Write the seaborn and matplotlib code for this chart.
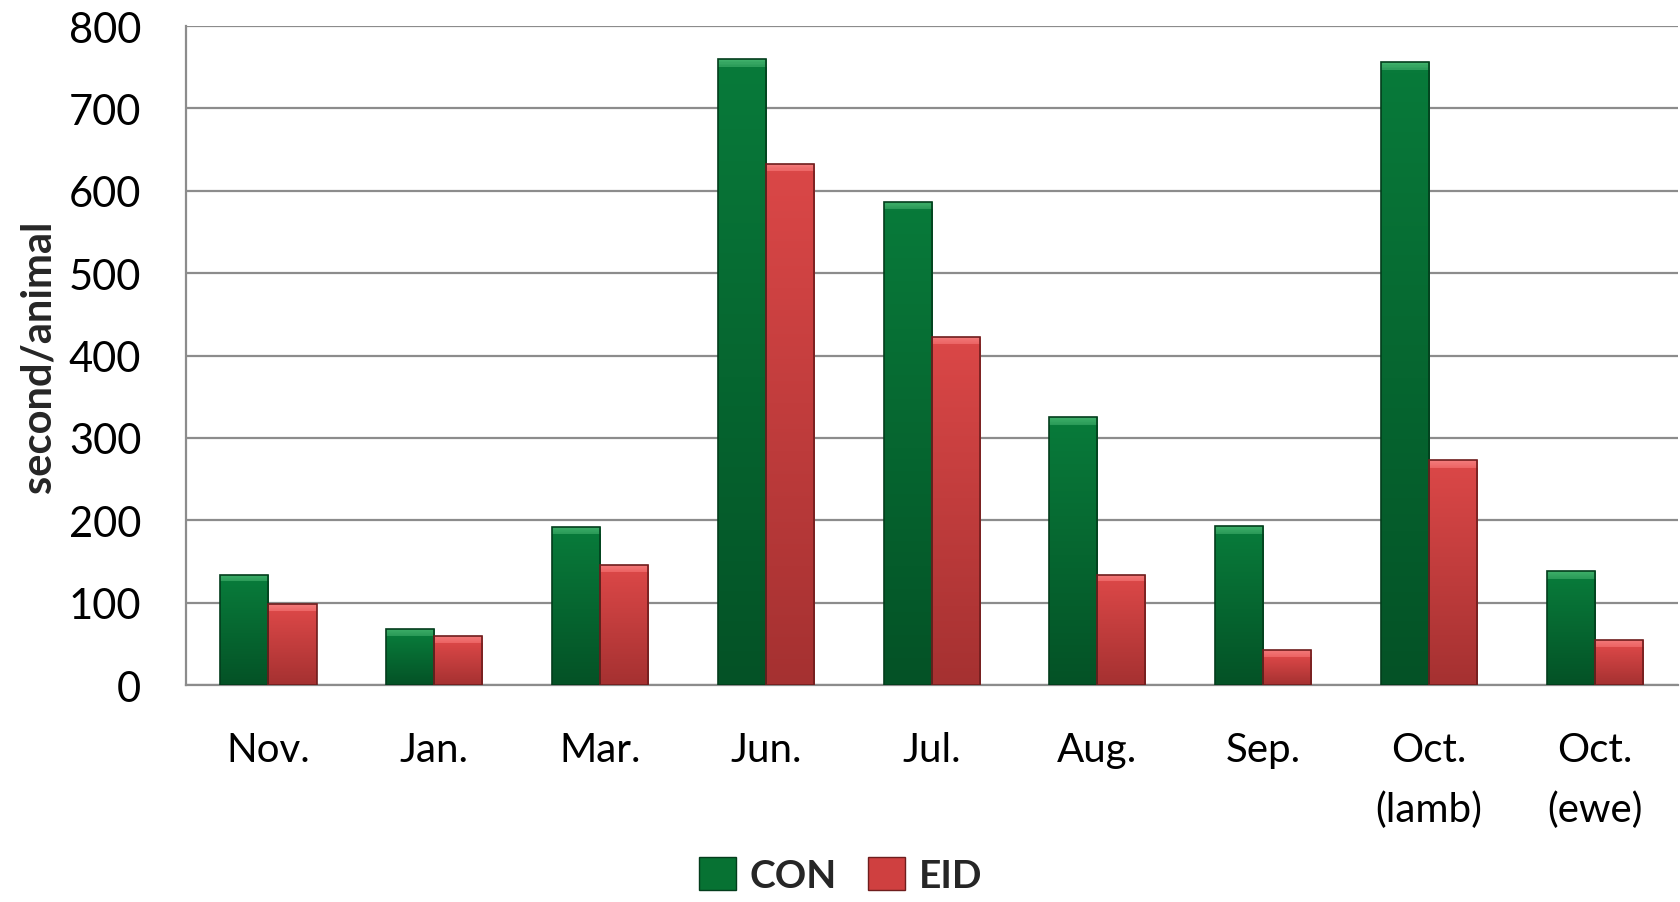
import numpy as np
import pandas as pd
import matplotlib
matplotlib.use("Agg")
import matplotlib.pyplot as plt
from matplotlib.colors import LinearSegmentedColormap
from matplotlib.patches import Patch
import seaborn as sns

# Data
months = ["Nov.", "Jan.", "Mar.", "Jun.", "Jul.", "Aug.", "Sep.", "Oct.\n(lamb)", "Oct.\n(ewe)"]
con = [134, 68, 192, 760, 587, 325, 193, 756, 138]
eid = [98, 60, 146, 633, 423, 134, 43, 273, 55]
groups = ["CON", "EID"]

GREEN = "#077233"
RED = "#cf4040"
# dark bottom -> body top -> light bevel
green_map = LinearSegmentedColormap.from_list(
    "g", [(0, "#045226"), (0.8, "#087a3a"), (0.81, "#2a9a58"), (1, "#3fb06a")])
red_map = LinearSegmentedColormap.from_list(
    "r", [(0, "#a53131"), (0.8, "#da4747"), (0.81, "#ec6464"), (1, "#f47c7c")])

df = pd.DataFrame({
    "month": months * 2,
    "value": con + eid,
    "group": [groups[0]] * len(months) + [groups[1]] * len(months),
})

sns.set_style("white")
plt.rcParams["font.family"] = ["Lato", "DejaVu Sans"]

fig = plt.figure(figsize=(16.81, 9.03), dpi=100)
ax = fig.add_axes([0.1104, 0.2403, 0.8876, 0.7297])

sns.barplot(data=df, x="month", y="value", hue="group", hue_order=groups,
            palette=[GREEN, RED], width=0.58, gap=0, ax=ax, legend=False,
            edgecolor="none", linewidth=0, zorder=3)

# gradient fill inside every bar, with a light bevel band at the top
bevel = 9  # data units
for cont, cmap, edge in zip(ax.containers, [green_map, red_map], ["#033d1c", "#6e1d1d"]):
    for bar in cont:
        x, w, h = bar.get_x(), bar.get_width(), bar.get_height()
        t = np.linspace(0, 1, 400)
        cut = 1 - bevel / h
        vals = np.where(t < cut, 0.8 * t / cut, 0.81 + 0.19 * (t - cut) / (1 - cut))
        im = ax.imshow(vals.reshape(-1, 1), extent=[x, x + w, 0, h], origin="lower",
                       aspect="auto", cmap=cmap, vmin=0, vmax=1, zorder=4,
                       interpolation="nearest")
        im.set_clip_path(bar)
        bar.set_edgecolor(edge)
        bar.set_linewidth(1.2)
        bar.set_zorder(5)
        bar.set_facecolor("none")

ax.set_ylim(0, 800)
ax.set_xlim(-0.5, len(months) - 0.5)

ax.set_yticks(range(0, 801, 100))
ax.yaxis.grid(True, color="#8c8c8c", linewidth=1.6, zorder=0)
ax.set_axisbelow(True)

ax.set_xticks(range(len(months)))
ax.set_xticklabels(months, fontsize=29, linespacing=1.75)
ax.set_xticks(np.arange(-0.5, len(months)), minor=True)
ax.tick_params(axis="x", which="major", length=0, pad=33)
ax.tick_params(axis="x", which="minor", length=10, width=1.5, color="#8c8c8c", direction="out")
ax.tick_params(axis="y", length=10, width=1.5, color="#8c8c8c", direction="out",
               labelsize=30, pad=22)
ax.tick_params(axis="both", colors="#8c8c8c", labelcolor="black", which="both")

for s in ["top", "right"]:
    ax.spines[s].set_visible(False)
for s in ["left", "bottom"]:
    ax.spines[s].set_color("#8c8c8c")
    ax.spines[s].set_linewidth(1.6)

ax.set_xlabel("")
ax.set_ylabel("second/animal", fontsize=30, fontweight="bold", labelpad=8)

handles = [Patch(facecolor=GREEN, edgecolor="#033d1c"), Patch(facecolor=RED, edgecolor="#6e1d1d")]
fig.legend(handles, groups, loc="center", bbox_to_anchor=(0.5, 1 - 876 / 903), ncol=2,
           frameon=False, prop={"size": 28, "weight": "bold"}, handlelength=0.95,
           handleheight=0.95, handletextpad=0.35, columnspacing=0.8, borderpad=0)

fig.savefig("out.png", dpi=100)
